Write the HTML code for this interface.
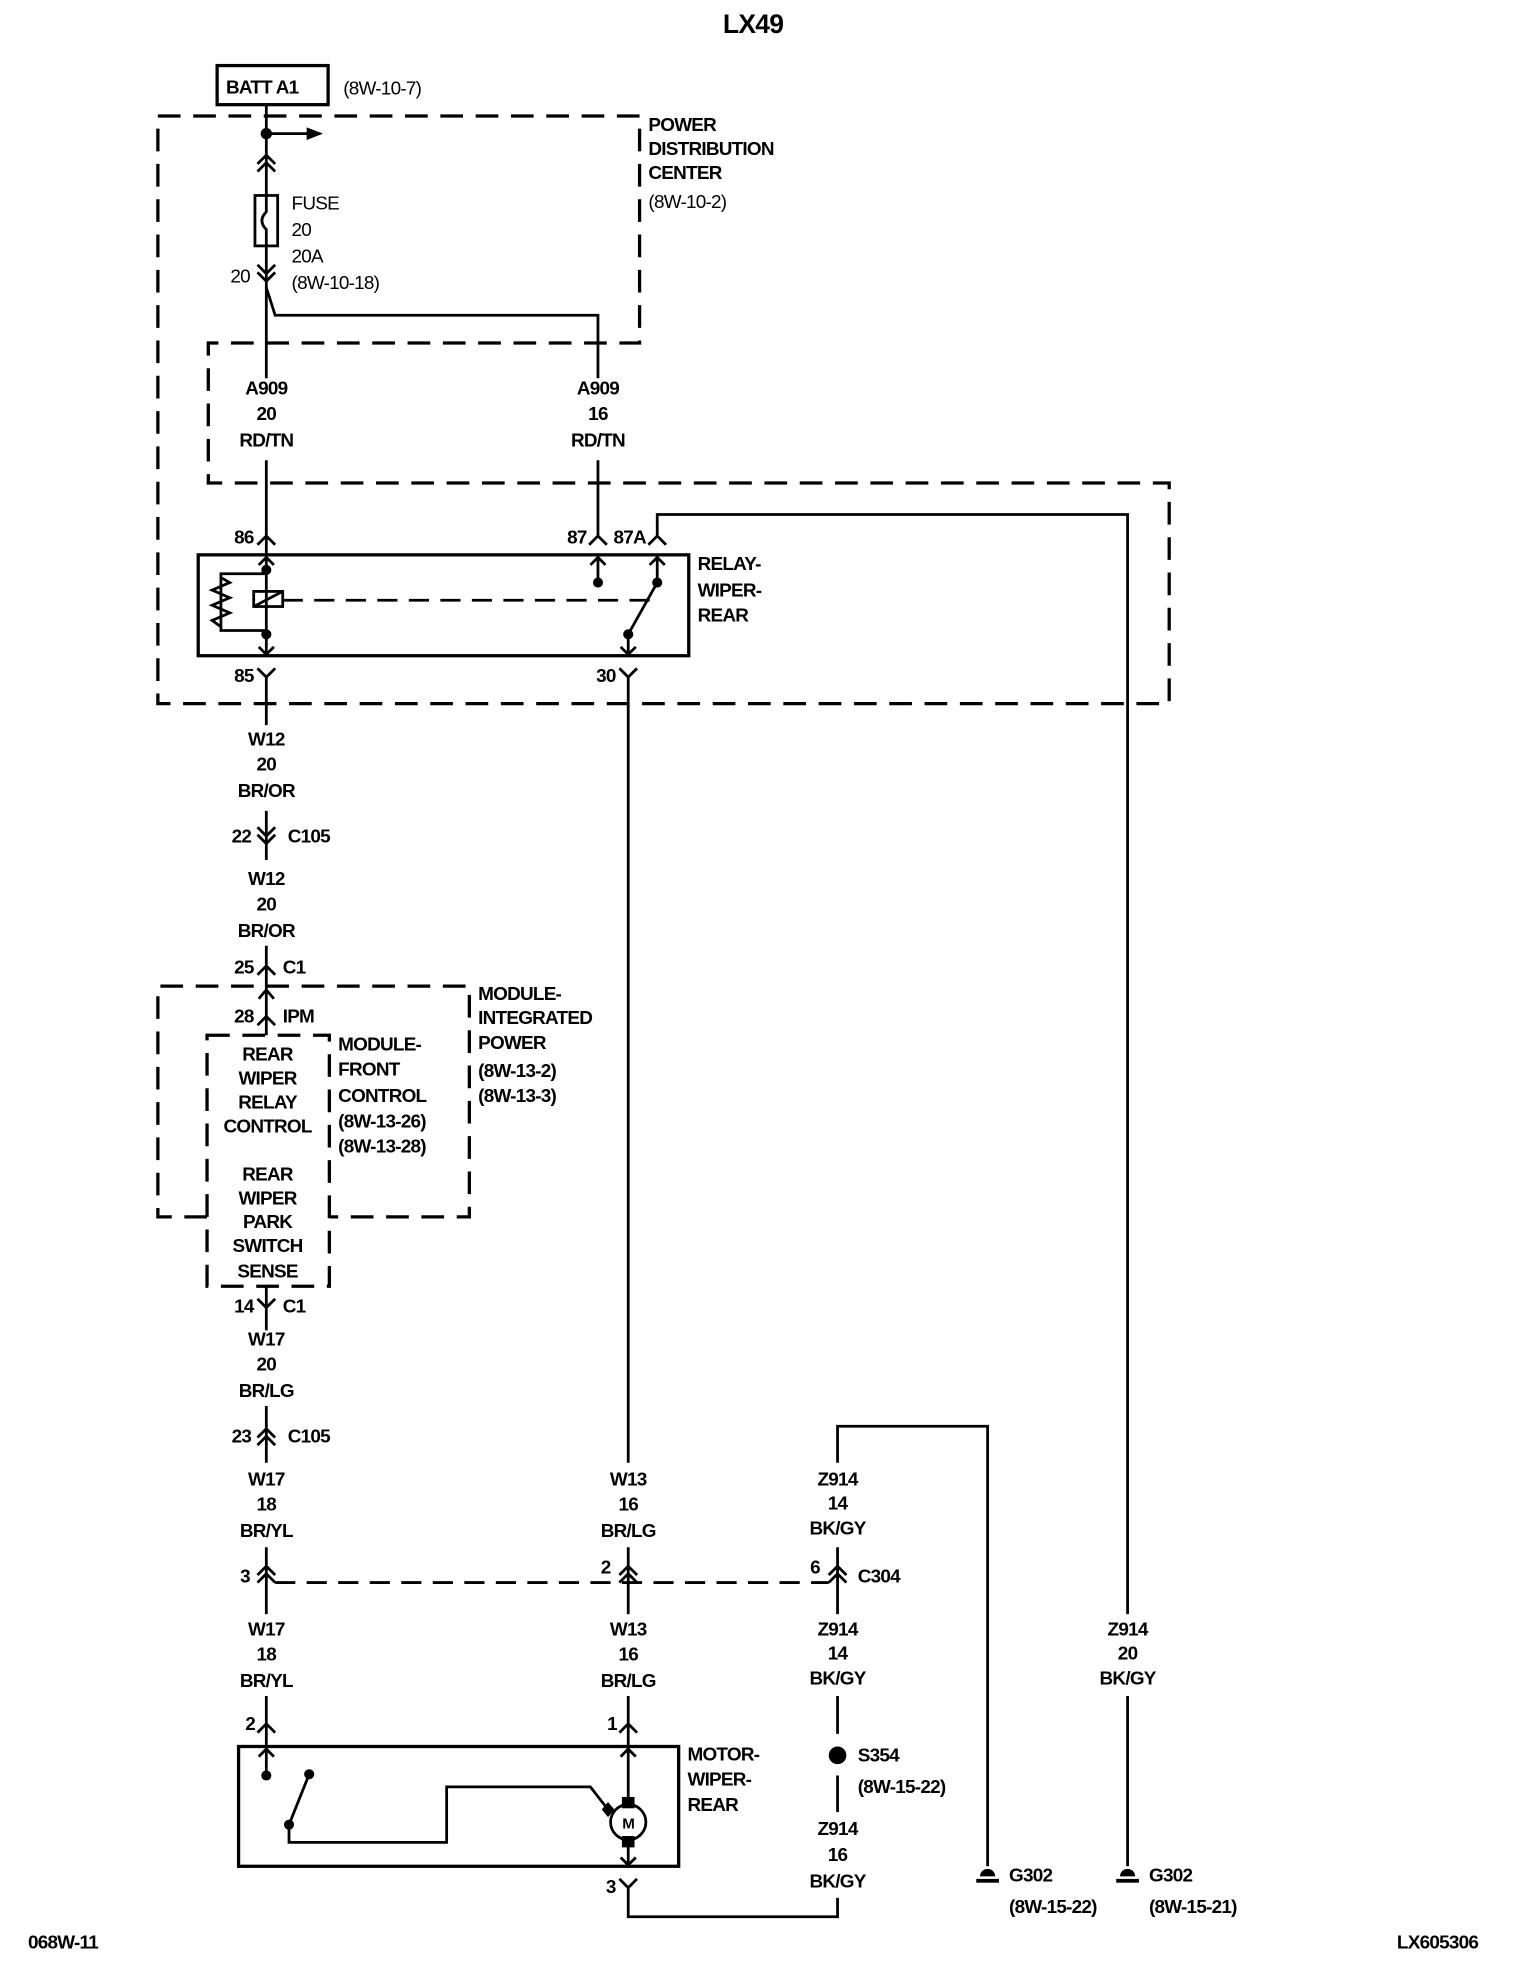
<!DOCTYPE html>
<html><head><meta charset="utf-8"><style>
html,body{margin:0;padding:0;background:#fff}
svg{display:block}
text{font-family:"Liberation Sans",sans-serif;font-size:15px;font-weight:bold;fill:#000;letter-spacing:-0.6px}
.c{text-anchor:middle}
.r{text-anchor:end}
</style></head><body>
<svg width="1520" height="1976" viewBox="0 0 1205 1567" xmlns="http://www.w3.org/2000/svg">
<g stroke="#000" stroke-width="2.2" fill="none">
<path d="M125 92 H507 V272 H165 V383 H927 V558 H125 Z" stroke-dasharray="18,10" stroke-width="2.6"/>
<path d="M164 965 H125 V782 H372 V965 H261" stroke-dasharray="18,10" stroke-width="2.6"/>
<path d="M164 821 H261 V1020 H164 Z" stroke-dasharray="18,10" stroke-width="2.6"/>
<rect x="172" y="52" width="88" height="31" stroke-width="2.6"/>
<path d="M211 83 V155 M211 195 V300 M211 365 V425"/>
<path d="M211 106 H245"/>
<path d="M211 228 L218 250 H474 V300 M474 365 V425"/>
<rect x="202" y="155" width="18" height="40"/>
<path d="M211 155 V168 Q204 175 211 182 V195"/>
<path d="M204 130 L211 123 L218 130 M204 136 L211 129 L218 136"/>
<path d="M204 210 L211 217 L218 210 M204 216 L211 223 L218 216"/>
<rect x="157" y="440" width="389" height="80" stroke-width="2.6"/>
<path d="M204 432 L211 425 L218 432 M211 425 V440"/>
<path d="M467 432 L474 425 L481 432"/>
<path d="M514 432 L521 425 L528 432 M521 425 V408 H894 V1280 M894 1345 V1480"/>
<path d="M211 440 V520 M205 448 L211 442 L217 448 M205 513 L211 519 L217 513"/>
<path d="M211 455 H175 V500 H211"/>
<path d="M175 458 L182 462 L168 468 L182 474 L168 480 L182 486 L168 492 L175 497"/>
<rect x="201" y="469" width="23" height="12"/>
<path d="M201 481 L224 469"/>
<path d="M224 476 H517" stroke-dasharray="16,9"/>
<path d="M474 440 V462 M468 448 L474 442 L480 448"/>
<path d="M521 440 V462 M515 448 L521 442 L527 448 M521 462 L498 503 M498 503 V520 M492 513 L498 519 L504 513"/>
<path d="M204 530 L211 537 L218 530 M211 537 V575"/>
<path d="M491 530 L498 537 L505 530 M498 537 V1160"/>
<path d="M211 643 V682 M204 656 L211 663 L218 656 M204 662 L211 669 L218 662"/>
<path d="M211 750 V821 M204 773 L211 766 L218 773 M205 792 L211 785 L217 792 M204 813 L211 806 L218 813"/>
<path d="M211 1020 V1055 M204 1030 L211 1037 L218 1030"/>
<path d="M211 1115 V1160 M204 1140 L211 1133 L218 1140 M204 1146 L211 1139 L218 1146"/>
<path d="M211 1227 V1280 M204 1249 L211 1242 L218 1249 M204 1255 L211 1248 L218 1255"/>
<path d="M498 1227 V1280 M491 1249 L498 1242 L505 1249 M491 1255 L498 1248 L505 1255"/>
<path d="M664 1227 V1280 M657 1249 L664 1242 L671 1249 M657 1255 L664 1248 L671 1255"/>
<path d="M218 1255 H657" stroke-dasharray="16,9"/>
<path d="M664 1160 V1131 H783 V1480"/>
<path d="M664 1345 V1375 M664 1408 V1437 M664 1505 V1520 H498 V1497"/>
<path d="M211 1345 V1385 M204 1374 L211 1367 L218 1374"/>
<path d="M498 1345 V1385 M491 1374 L498 1367 L505 1374"/>
<rect x="189" y="1385" width="349" height="95" stroke-width="2.6"/>
<path d="M211 1385 V1408 M205 1393 L211 1387 L217 1393"/>
<path d="M229 1447 L245 1407 M229 1447 V1461 H354 V1417 H468 L482 1435"/>
<path d="M498 1385 V1480 M492 1393 L498 1387 L504 1393 M492 1473 L498 1479 L504 1473"/>
<circle cx="498" cy="1445" r="14" fill="#fff"/>
<path d="M491 1490 L498 1497 L505 1490"/>
</g>
<g fill="#000">
<circle cx="211" cy="106" r="4.5"/>
<path d="M243 101 L256 106 L243 111 Z"/>
<circle cx="211" cy="452" r="4"/><circle cx="211" cy="503" r="4"/>
<circle cx="474" cy="462" r="4"/><circle cx="521" cy="462" r="4"/><circle cx="498" cy="503" r="4"/>
<circle cx="211" cy="1408" r="4"/><circle cx="245" cy="1407" r="4"/><circle cx="229" cy="1447" r="4"/>
<rect x="493" y="1425" width="10" height="9"/><rect x="493" y="1456" width="10" height="9"/>
<path d="M482 1429 L487 1435 L482 1441 L477 1435 Z"/>
<circle cx="664" cy="1392" r="7"/>
<path d="M777 1488 a6 6 0 0 1 12 0 Z"/><rect x="774" y="1490" width="18" height="3"/>
<path d="M888 1488 a6 6 0 0 1 12 0 Z"/><rect x="885" y="1490" width="18" height="3"/>
</g>
<text x="597" y="26" class="c" style="font-size:21px">LX49</text>
<text x="179" y="74">BATT A1</text>
<text x="272" y="75" style="font-weight:normal">(8W-10-7)</text>
<text x="514" y="104">POWER</text>
<text x="514" y="123">DISTRIBUTION</text>
<text x="514" y="142">CENTER</text>
<text x="514" y="165" style="font-weight:normal">(8W-10-2)</text>
<text x="231" y="166" style="font-weight:normal">FUSE</text>
<text x="231" y="187" style="font-weight:normal">20</text>
<text x="231" y="208" style="font-weight:normal">20A</text>
<text x="231" y="229" style="font-weight:normal">(8W-10-18)</text>
<text x="198" y="224" class="r" style="font-weight:normal">20</text>
<g style="font-weight:normal" class="c">
<text x="211" y="313" class="c">A909</text><text x="211" y="333" class="c">20</text><text x="211" y="354" class="c">RD/TN</text>
<text x="474" y="313" class="c">A909</text><text x="474" y="333" class="c">16</text><text x="474" y="354" class="c">RD/TN</text>
<text x="211" y="591" class="c">W12</text><text x="211" y="611" class="c">20</text><text x="211" y="632" class="c">BR/OR</text>
<text x="211" y="702" class="c">W12</text><text x="211" y="722" class="c">20</text><text x="211" y="743" class="c">BR/OR</text>
<text x="211" y="1067" class="c">W17</text><text x="211" y="1087" class="c">20</text><text x="211" y="1108" class="c">BR/LG</text>
<text x="211" y="1178" class="c">W17</text><text x="211" y="1198" class="c">18</text><text x="211" y="1219" class="c">BR/YL</text>
<text x="211" y="1297" class="c">W17</text><text x="211" y="1317" class="c">18</text><text x="211" y="1338" class="c">BR/YL</text>
<text x="498" y="1178" class="c">W13</text><text x="498" y="1198" class="c">16</text><text x="498" y="1219" class="c">BR/LG</text>
<text x="498" y="1297" class="c">W13</text><text x="498" y="1317" class="c">16</text><text x="498" y="1338" class="c">BR/LG</text>
<text x="664" y="1178" class="c">Z914</text><text x="664" y="1197" class="c">14</text><text x="664" y="1217" class="c">BK/GY</text>
<text x="664" y="1297" class="c">Z914</text><text x="664" y="1316" class="c">14</text><text x="664" y="1336" class="c">BK/GY</text>
<text x="664" y="1455" class="c">Z914</text><text x="664" y="1476" class="c">16</text><text x="664" y="1497" class="c">BK/GY</text>
<text x="894" y="1297" class="c">Z914</text><text x="894" y="1316" class="c">20</text><text x="894" y="1336" class="c">BK/GY</text>
</g>
<g style="font-weight:normal">
<text x="201" y="431" class="r">86</text>
<text x="465" y="431" class="r">87</text>
<text x="512" y="431" class="r">87A</text>
<text x="201" y="541" class="r">85</text>
<text x="488" y="541" class="r">30</text>
<text x="199" y="668" class="r">22</text>
<text x="201" y="772" class="r">25</text>
<text x="201" y="811" class="r">28</text>
<text x="201" y="1041" class="r">14</text>
<text x="199" y="1144" class="r">23</text>
<text x="198" y="1255" class="r">3</text>
<text x="484" y="1248" class="r">2</text>
<text x="650" y="1248" class="r">6</text>
<text x="202" y="1372" class="r">2</text>
<text x="489" y="1372" class="r">1</text>
<text x="488" y="1501" class="r">3</text>
</g>
<text x="228" y="668">C105</text>
<text x="224" y="772">C1</text>
<text x="224" y="811">IPM</text>
<text x="224" y="1041">C1</text>
<text x="228" y="1144">C105</text>
<text x="680" y="1255">C304</text>
<text x="553" y="452">RELAY-</text>
<text x="553" y="473">WIPER-</text>
<text x="553" y="493">REAR</text>
<text x="379" y="793">MODULE-</text>
<text x="379" y="812">INTEGRATED</text>
<text x="379" y="832">POWER</text>
<g style="font-weight:normal">
<text x="379" y="854">(8W-13-2)</text>
<text x="379" y="874">(8W-13-3)</text>
<text x="268" y="833">MODULE-</text>
<text x="268" y="853">FRONT</text>
<text x="268" y="874">CONTROL</text>
<text x="268" y="894">(8W-13-26)</text>
<text x="268" y="914">(8W-13-28)</text>
<text x="212" y="841" class="c">REAR</text>
<text x="212" y="860" class="c">WIPER</text>
<text x="212" y="879" class="c">RELAY</text>
<text x="212" y="898" class="c">CONTROL</text>
<text x="212" y="936" class="c">REAR</text>
<text x="212" y="955" class="c">WIPER</text>
<text x="212" y="974" class="c">PARK</text>
<text x="212" y="993" class="c">SWITCH</text>
<text x="212" y="1013" class="c">SENSE</text>
<text x="498" y="1450" class="c" style="font-size:12px">M</text>
<text x="680" y="1422">(8W-15-22)</text>
<text x="800" y="1517">(8W-15-22)</text>
<text x="911" y="1517">(8W-15-21)</text>
<text x="22" y="1545">068W-11</text>
<text x="1172" y="1545" class="r">LX605306</text>
</g>
<text x="545" y="1396">MOTOR-</text>
<text x="545" y="1416">WIPER-</text>
<text x="545" y="1436">REAR</text>
<text x="680" y="1397">S354</text>
<text x="800" y="1492">G302</text>
<text x="911" y="1492">G302</text>
</svg>
</body></html>
